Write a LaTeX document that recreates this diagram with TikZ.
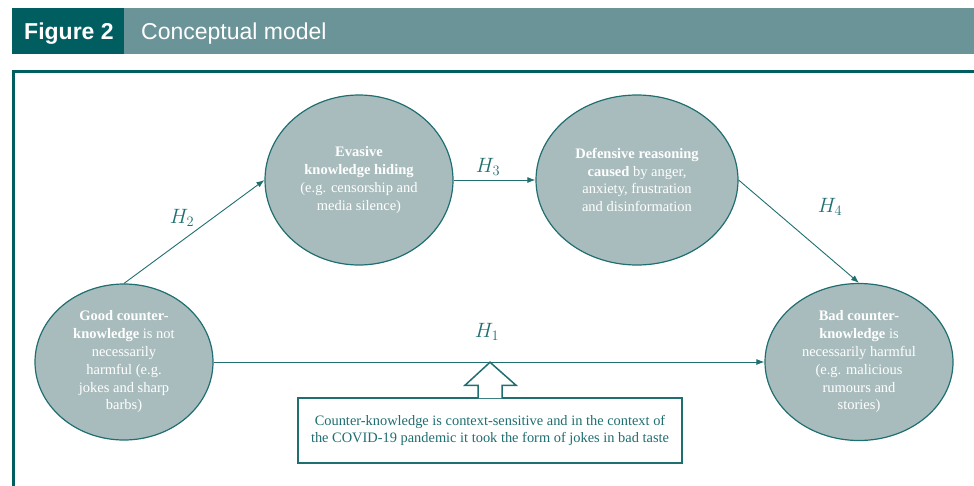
\documentclass[tikz,border=0pt]{standalone}
\usepackage{fontspec}
\setmainfont{Liberation Serif}
\newfontfamily\headfont{Liberation Sans}
\usetikzlibrary{shapes.geometric,arrows.meta,calc}
\definecolor{tealdark}{HTML}{005E61}
\definecolor{teallight}{HTML}{6B9499}
\definecolor{tealline}{HTML}{1F6E70}
\definecolor{bubblefill}{HTML}{A9BCBD}

\begin{document}
\begin{tikzpicture}[x=1pt,y=-1pt,
  bubble/.style={ellipse, draw=tealline, line width=1.2pt, fill=bubblefill,
    inner sep=0pt, align=center, text=white,
    font=\fontsize{14.5}{17.8}\selectfont},
  link/.style={draw=tealline, line width=0.9pt, -{Latex[length=8pt,width=6pt]}},
  hyp/.style={text=tealline, font=\fontsize{19.5}{19.5}\selectfont, inner sep=0pt},
  headtext/.style={anchor=base west, inner sep=0pt, text=white},
]
\useasboundingbox (0,0) rectangle (974,485);
\clip (0,0) rectangle (974,485);

% title bar
\fill[tealdark] (12,8) rectangle (124,54);
\fill[teallight] (124,8) rectangle (974,54);
\node[headtext, font=\headfont\bfseries\fontsize{23}{23}\selectfont] (figno) at (24,39) {Figure 2};
\node[headtext, font=\headfont\fontsize{23}{23}\selectfont] (title) at (141,39) {Conceptual model};

% panel frame
\draw[tealdark, line width=3.5pt] (13.5,71.5) rectangle (1100,700);

% concepts
\node[bubble, minimum width=178pt, minimum height=156pt] (good) at (124,362)
  {\textbf{Good counter-}\\ \textbf{knowledge} is not\\ necessarily\\ harmful (e.g.\\ jokes and sharp\\ barbs)};
\node[bubble, minimum width=188pt, minimum height=170pt] (evasive) at (359,180)
  {\textbf{Evasive}\\ \textbf{knowledge hiding}\\ (e.g. censorship and\\ media silence)};
\node[bubble, minimum width=202pt, minimum height=170pt] (defensive) at (637,180)
  {\textbf{Defensive reasoning}\\ \textbf{caused} by anger,\\ anxiety, frustration\\ and disinformation};
\node[bubble, minimum width=188pt, minimum height=157pt] (bad) at (859,362)
  {\textbf{Bad counter-}\\ \textbf{knowledge} is\\ necessarily harmful\\ (e.g. malicious\\ rumours and\\ stories)};

% hypotheses
\draw[link] (good.north) -- (evasive.west);
\draw[link] (evasive.east) -- (defensive.west);
\draw[link] (defensive.east) -- (bad.north);
\draw[link] (good.east) -- (bad.west);

\node[hyp] (h2) at (182,218) {$H_2$};
\node[hyp] (h3) at (488,167) {$H_3$};
\node[hyp] (h4) at (830,207) {$H_4$};
\node[hyp] (h1) at (487,332) {$H_1$};

% context note with block arrow
\node[draw=tealline, line width=1.5pt, fill=white, minimum width=384pt, minimum height=65pt,
  align=center, text=tealline, font=\fontsize{14.4}{16.8}\selectfont] (note) at (490,430.5)
  {Counter-knowledge is context-sensitive and in the context of\\
   the COVID-19 pandemic it took the form of jokes in bad taste};
\filldraw[draw=tealline, fill=white, line width=1.5pt, line join=miter]
  ($(note.north)+(-12,0.8)$) -- ($(note.north)+(-12,-12)$) -- ($(note.north)+(-25,-12)$)
  -- ($(note.north)+(0,-35)$) -- ($(note.north)+(26,-12)$) -- ($(note.north)+(12,-12)$)
  -- ($(note.north)+(12,0.8)$);
\end{tikzpicture}
\end{document}
